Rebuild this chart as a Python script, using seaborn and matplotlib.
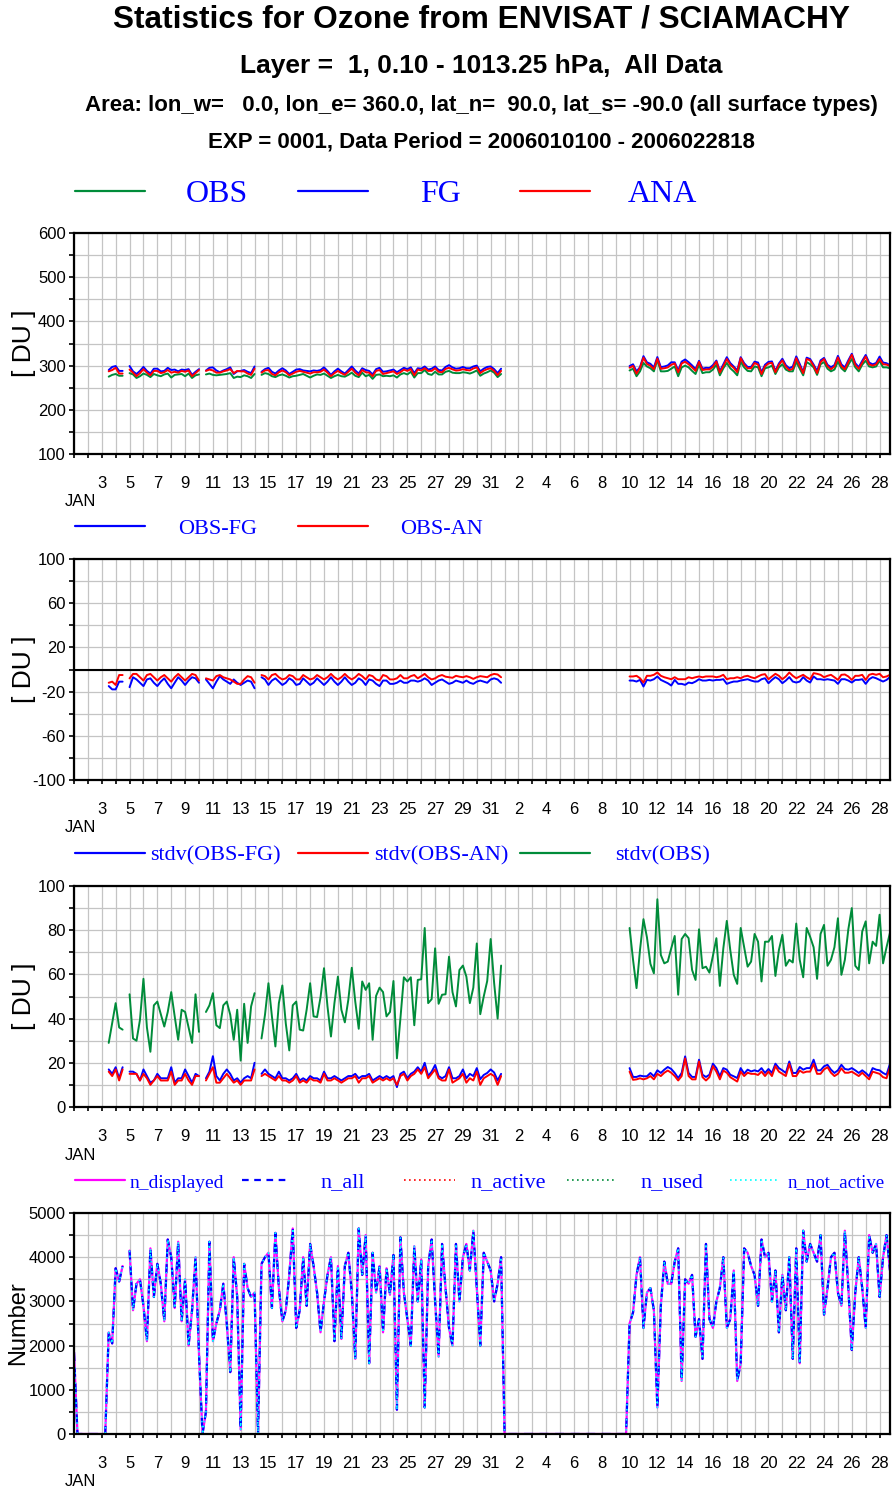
import numpy as np
import pandas as pd
import matplotlib
matplotlib.use("Agg")
import matplotlib.pyplot as plt
import seaborn as sns
from matplotlib.ticker import FixedLocator

sns.set_theme(style="white")
plt.rcParams["font.family"] = ["Liberation Sans", "DejaVu Sans"]
plt.rcParams["text.color"] = "black"
plt.rcParams["axes.labelcolor"] = "black"
plt.rcParams["axes.unicode_minus"] = False

# 6-hourly analysis slots, 2006010100 .. 2006022818
slots = pd.date_range("2006-01-01 00:00", "2006-02-28 18:00", freq="6h")
days = ((slots - slots[0]) / pd.Timedelta(days=1)).to_numpy()

# first slot of each uninterrupted run of ozone statistics
run_starts = [10, 16, 38, 54, 160]

# mean observed total ozone [DU]
obs_runs = [
    [275, 279, 281, 277, 277],
    [283, 280, 272, 276, 282, 279, 274, 281, 278, 276, 280, 282, 273, 279, 280, 281, 276, 282, 272, 278, 280],
    [280, 282, 279, 278, 279, 280, 281, 283, 272, 275, 274, 278, 276, 272, 281],
    [279, 283, 281, 276, 274, 278, 280, 277, 273, 276, 277, 279, 281, 277, 273, 277, 280, 279, 282, 277,
     272, 276, 279, 276, 275, 279, 284, 277, 274, 284, 276, 279, 270, 279, 280, 276, 277, 276, 278, 273,
     280, 283, 280, 286, 273, 283, 283, 290, 281, 279, 286, 280, 280, 286, 288, 284, 283, 283, 285, 284,
     282, 285, 289, 277, 282, 285, 289, 284, 274, 281],
    [289, 293, 276, 287, 306, 298, 294, 287, 313, 287, 287, 288, 293, 298, 276, 296, 300, 296, 288, 281,
     302, 283, 285, 285, 291, 302, 278, 294, 306, 294, 287, 278, 309, 296, 288, 287, 298, 296, 276, 294,
     296, 300, 281, 296, 303, 291, 287, 287, 309, 293, 278, 308, 303, 296, 279, 303, 308, 293, 287, 291,
     309, 294, 287, 302, 315, 296, 287, 302, 311, 298, 296, 298, 311, 296, 296, 294],
]

# mean departures OBS-FG and OBS-AN [DU]
omf_runs = [
    [-15, -18, -18, -11, -11],
    [-16, -7, -9, -12, -15, -9, -8, -12, -15, -11, -8, -13, -17, -12, -7, -10, -14, -10, -7, -8, -12],
    [-9, -13, -17, -11, -6, -9, -11, -13, -9, -12, -14, -12, -10, -11, -17],
    [-7, -9, -14, -10, -8, -11, -14, -12, -8, -10, -14, -13, -8, -11, -14, -12, -8, -11, -14, -11,
     -7, -11, -14, -11, -7, -11, -14, -12, -8, -10, -14, -9, -10, -13, -15, -10, -10, -13, -13, -12,
     -10, -12, -12, -10, -10, -11, -10, -8, -10, -14, -12, -10, -9, -11, -13, -12, -10, -11, -12, -10,
     -12, -13, -11, -10, -11, -12, -9, -8, -9, -12],
    [-10, -10, -10.9, -9.4, -15.4, -9.4, -10, -8.8, -6.3, -9.4, -10.9, -12.4, -14.5, -9.4, -13, -13,
     -13.9, -11.8, -12.4, -10.9, -8.8, -10, -10, -9.4, -10, -9.4, -9.4, -8.8, -13, -11.8, -10.9, -10.9,
     -10, -9.4, -8.8, -10, -10.9, -10.9, -8.8, -7.9, -12.4, -9.4, -6.9, -8.8, -12.4, -10, -6.9, -10.9,
     -11.8, -10.9, -6.9, -10, -11.8, -6.3, -8.8, -8.8, -9.4, -8.8, -9.4, -10, -13, -8.8, -8.8, -10,
     -11.8, -9.4, -9.4, -8.8, -13, -8.8, -6.9, -7.9, -9.4, -10.9, -9.4, -6.9],
]
oma_runs = [
    [-12, -11, -14, -5, -5],
    [-8, -4, -4, -7, -10, -5, -4, -7, -10, -7, -5, -8, -11, -7, -4, -7, -10, -7, -4, -5, -10],
    [-8, -9, -10, -6, -5, -7, -8, -9, -11, -13, -13, -9, -6, -7, -12],
    [-5, -6, -9, -5, -4, -7, -9, -8, -5, -6, -9, -9, -5, -7, -9, -8, -5, -7, -9, -7,
     -4, -7, -9, -7, -4, -7, -9, -7, -4, -6, -9, -5, -6, -9, -10, -5, -6, -9, -9, -8,
     -5, -8, -8, -6, -5, -8, -6, -4, -7, -9, -8, -6, -5, -6.5, -7, -7.5, -5.7, -6.5, -7, -6,
     -7, -8.5, -7, -6, -6.5, -7, -5, -4, -4.5, -7],
    [-6.3, -6.3, -5.7, -7.9, -11.8, -5.7, -5.7, -4.8, -2.7, -5.7, -7, -7.9, -8.8, -7, -8.8, -8.8,
     -8.8, -7, -7.9, -7, -6.3, -7, -6.3, -6.3, -6.3, -7, -6.3, -4.8, -8.8, -7.9, -7.9, -7,
     -7.9, -6.3, -5.7, -7, -7.9, -6.3, -4.8, -4.2, -8.8, -6.3, -3.9, -5.7, -8.8, -6.3, -2.7, -5.7,
     -7.9, -6.3, -4.8, -7, -8.8, -3.3, -3.9, -4.8, -7, -5.7, -4.8, -7, -9.4, -4.8, -4.5, -6.3,
     -9.4, -5.7, -5.7, -4.8, -9.4, -4.8, -3.9, -4.8, -3.9, -7, -6.3, -4.8],
]

# standard deviations [DU]
sd_omf_runs = [
    [17, 15, 18, 13, 18],
    [16, 16, 15, 12, 17, 14, 11, 12, 15, 13, 13, 13, 18, 11, 13, 13, 17, 14, 11, 15, 14],
    [13, 16, 23, 14, 12, 15, 17, 15, 12, 13, 11, 13, 14, 13, 20],
    [15, 17, 15, 14, 13, 16, 13, 13, 12, 13, 15, 12, 13, 12, 14, 13, 13, 12, 16, 13,
     13, 14, 13, 12, 13, 14, 14, 15, 13, 14, 14, 15, 12, 13, 14, 13, 14, 13, 14, 9,
     15, 16, 13, 15, 16, 18, 16, 20, 14, 16, 19, 14, 13, 14, 18, 13, 13, 14, 17, 13,
     15, 14, 17.6, 12.6, 14.5, 15.4, 17, 15.6, 12, 15],
    [17.6, 13.6, 13.6, 14.2, 13.9, 13.9, 15.4, 13.9, 16.6, 15.4, 16.9, 18.1, 17.2, 15.4, 13.1, 15.4,
     22.9, 15.4, 13.6, 13.6, 21.4, 14.6, 13.6, 14.6, 19.6, 17.6, 13.9, 17.6, 16.9, 14.6, 13.9, 13.1,
     17.6, 15.1, 16.9, 16.1, 16.6, 16.1, 17.6, 15.4, 17.2, 15.4, 19.6, 17.6, 16.6, 15.4, 20.6, 15.4,
     15.4, 18.1, 16.9, 17.6, 17.6, 21.4, 16.6, 16.6, 18.4, 19.1, 16.9, 15.4, 16.6, 19.1, 17.2, 16.9,
     17.6, 16.6, 15.4, 16.6, 15.4, 13.9, 17.6, 16.9, 16.6, 15.4, 14.6, 19.6],
]
sd_oma_runs = [
    [16, 14, 17, 12, 17],
    [15, 15, 15, 12, 15, 13, 10, 12, 14, 12, 12, 12, 16, 10, 12, 12, 15, 12, 10, 14, 14],
    [12, 15, 18, 11, 11, 13, 15, 13, 11, 12, 10, 12, 12, 12, 17],
    [14, 15, 14, 13, 12, 14, 12, 12, 11, 12, 14, 11, 12, 11, 13, 12, 12, 11, 15, 12,
     12, 13, 12, 11, 12, 13, 13, 14, 11, 13, 13, 14, 11, 12, 13, 12, 13, 12, 13, 10,
     14, 15, 12, 14, 15, 17, 15, 18, 13, 15, 17, 13, 12, 12, 17, 11, 12, 13, 15, 11,
     13, 12, 16, 10, 13, 14, 15, 14, 10, 14],
    [16, 12.3, 12.5, 13, 12.5, 13, 14, 12.5, 15, 14, 15.5, 16.5, 15.5, 14, 12, 14,
     22, 14, 12.5, 12.5, 20.6, 13.5, 12, 13.5, 18.5, 16, 12.5, 16.5, 15.5, 13.5, 12.5, 11.5,
     16, 14, 15.5, 15, 15, 14.5, 16, 14, 16, 14, 18.5, 16, 15, 14, 19.5, 14,
     14, 16.5, 15.5, 16, 16, 19.5, 15, 15, 17, 18, 15.5, 14, 15, 17.5, 15.5, 15.5,
     16, 15, 14, 15.5, 14, 12.5, 16, 15.5, 15, 13.5, 13, 18],
]
sd_obs_runs = [
    [29, 38, 47, 36, 35],
    [51, 31, 30, 39.5, 58, 36, 25, 46, 47.7, 42, 36.4, 43, 52, 41, 30.4, 44, 43, 36, 29, 51, 34],
    [43, 46, 51.5, 37, 35.7, 46, 47.7, 41.7, 30.4, 44, 21, 46.7, 29, 45.5, 51.5],
    [31, 41.7, 56, 41, 27.4, 47, 55, 37.7, 25.6, 46, 47.7, 35, 34.6, 44, 56, 41, 40.7, 49.7, 62.8, 45.5,
     31.9, 47, 59, 44, 38.3, 48.5, 63, 47.7, 35.4, 56.8, 53, 56, 30.4, 50.3, 54, 52, 41, 43, 57, 22,
     40, 58.7, 56.8, 58.7, 37, 57.5, 57.8, 81, 47, 48.8, 71.8, 46.7, 50.8, 51, 68, 52, 45.5, 62, 64, 59,
     47, 54, 74, 42, 50, 57, 76, 56, 40, 64],
    [81, 66.6, 53.8, 71, 85, 76.8, 64.8, 60.5, 94, 68.8, 65, 65.8, 71.8, 77.4, 50.8, 76,
     78.3, 76.4, 62, 57.5, 80.4, 62.8, 63.5, 60.8, 68.4, 76.4, 54.8, 71.8, 84.2, 71, 59.8, 55.7,
     81, 72.3, 63.5, 65.8, 78.3, 74.8, 56.8, 74.8, 74.8, 77.4, 59.3, 71, 77.9, 63.9, 66.6, 65.4,
     83, 66.6, 58.7, 81, 77, 72.3, 58, 78.3, 82.4, 63.9, 66.6, 72.3, 85.4, 59.8, 66.6, 80.4,
     90, 63.9, 62, 79.4, 84, 65, 74.8, 72.9, 87, 65, 72.3, 78.9],
]

# observation counts per slot (nan: no report)
nan = np.nan
n_all = [
    1850, 0, 0, 0, 0, 0, 0, 0, 0, 0,
    2300, 2050, 3750, 3450, 3800, nan, 4150, 2800, 3400, 3500,
    2900, 2100, 4200, 3100, 3850, 3400, 2550, 4400, 4000, 2850,
    4350, 2550, 3500, 2000, 2800, 4000, 1800, 0, 500, 4350,
    2100, 2500, 2800, 3400, 2500, 1400, 4000, 3100, 100, 3850,
    3300, 3100, 3200, 0, 3850, 4000, 4100, 2850, 4550, 3300,
    2550, 2800, 3600, 4650, 2400, 2800, 4000, 2900, 4300, 3800,
    3200, 2300, 3000, 3600, 4000, 2100, 3800, 2150, 3800, 4100,
    3200, 1700, 4650, 3600, 4500, 1600, 4100, 3200, 3800, 2300,
    3750, 3150, 4050, 550, 4450, 3200, 2600, 2000, 4250, 3000,
    3950, 600, 3800, 4400, 3000, 1750, 4300, 3300, 2400, 2000,
    4300, 3000, 4000, 4300, 3700, 4600, 3300, 2000, 4100, 3900,
    3700, 3000, 3400, 4000, 0, 0, 0, 0, 0, 0,
    0, 0, 0, 0, 0, 0, 0, 0, 0, 0,
    0, 0, 0, 0, 0, 0, 0, 0, 0, 0,
    0, 0, 0, 0, 0, 0, 0, 0, 0, 0,
    2500, 2750, 3600, 4000, 2400, 3200, 3300, 2800, 600, 2900,
    3900, 3400, 3400, 3900, 4200, 1200, 3500, 3400, 3600, 2200,
    2600, 1700, 4300, 2600, 2400, 3000, 3300, 4000, 2400, 2600,
    3700, 1200, 1600, 4200, 4100, 3800, 3600, 2900, 4400, 4000,
    4100, 3000, 3700, 2300, 3600, 2800, 4000, 1700, 4200, 1600,
    4600, 3900, 4300, 4100, 3900, 4500, 2700, 3300, 4000, 4100,
    3200, 2900, 4600, 3300, 1900, 3200, 4000, 3300, 2400, 4500,
    4100, 4300, 3100, 4000, 4500, 3700,
]
# all data passive: everything displayed, nothing active or used
n_displayed = n_all
n_not_active = n_all
n_active = [0] * len(slots)
n_used = [0] * len(slots)

W, H = 893, 1488
GREEN, BLUE, RED = "#008c3a", "#0000ff", "#ff0000"
LW = 1.4


def runs_frame(runs):
    recs = []
    for r, (s, vals) in enumerate(zip(run_starts, runs)):
        for j, v in enumerate(vals):
            recs.append({"day": days[s + j], "value": v, "run": r})
    return pd.DataFrame(recs)


def series_frame(values):
    v = pd.Series(values, dtype=float)
    df = pd.DataFrame({"day": days, "value": v, "run": v.isna().cumsum()})
    return df.dropna()


def draw(ax, df, color, lw=LW, **kw):
    sns.lineplot(data=df, x="day", y="value", units="run", estimator=None,
                 sort=False, color=color, lw=lw, legend=False, ax=ax, **kw)


fg_runs = [[o - d for o, d in zip(a, b)] for a, b in zip(obs_runs, omf_runs)]
an_runs = [[o - d for o, d in zip(a, b)] for a, b in zip(obs_runs, oma_runs)]

fig = plt.figure(figsize=(W / 100, H / 100), dpi=100)


def panel(top, bottom):
    return fig.add_axes([74 / W, 1 - bottom / H, (890 - 74) / W, (bottom - top) / H])


day_ticks = list(range(0, 59))
day_labels = []
for d in day_ticks:
    date = slots[0] + pd.Timedelta(days=d)
    day_labels.append(str(date.day) if d >= 2 and d % 2 == 0 else "")


def style(ax, lo, hi, major, minor):
    ax.set_xlim(days[0], days[-1])
    ax.set_ylim(lo, hi)
    ax.set_xticks(day_ticks)
    ax.set_xticklabels(day_labels)
    ax.yaxis.set_major_locator(FixedLocator(major))
    ax.yaxis.set_minor_locator(FixedLocator(minor))
    ax.set_axisbelow(True)
    ax.grid(True, which="both", color="#c4c4c4", lw=0.9)
    ax.tick_params(axis="x", which="major", bottom=True, direction="out", length=3,
                   width=1.2, pad=13, labelsize=12, colors="black")
    ax.tick_params(axis="y", which="both", left=True, direction="out", length=3.5,
                   width=1.2, pad=2.5, labelsize=12, colors="black")
    for s in ax.spines.values():
        s.set_visible(True)
        s.set_color("black")
        s.set_linewidth(1.6)
    ax.set_xlabel("")
    ax.set_ylabel("")
    ax.annotate("JAN", xy=(0.5, 0), xycoords=("data", "axes fraction"),
                xytext=(0, -48 * 0.72), textcoords="offset points",
                ha="center", va="center", fontsize=12)


# panel 1: mean ozone
ax1 = panel(233, 454)
draw(ax1, runs_frame(obs_runs), GREEN)
draw(ax1, runs_frame(fg_runs), BLUE)
draw(ax1, runs_frame(an_runs), RED)
style(ax1, 100, 600, [100, 200, 300, 400, 500, 600], [150, 250, 350, 450, 550])

# panel 2: mean departures
ax2 = panel(559, 780)
ax2.axhline(0, color="black", lw=1.5, zorder=1.5)
draw(ax2, runs_frame(omf_runs), BLUE)
draw(ax2, runs_frame(oma_runs), RED)
style(ax2, -100, 100, [-100, -60, -20, 20, 60, 100], [-80, -40, 0, 40, 80])

# panel 3: standard deviations
ax3 = panel(886, 1107)
draw(ax3, runs_frame(sd_omf_runs), BLUE)
draw(ax3, runs_frame(sd_oma_runs), RED)
draw(ax3, runs_frame(sd_obs_runs), GREEN)
style(ax3, 0, 100, [0, 20, 40, 60, 80, 100], [10, 30, 50, 70, 90])

# panel 4: counts
ax4 = panel(1213, 1434)
draw(ax4, series_frame(n_displayed), "#ff00ff", lw=1.6)
draw(ax4, series_frame(n_all), BLUE, lw=1.6, linestyle=(0, (4, 3)))
draw(ax4, series_frame(n_active), RED, lw=1.2, linestyle=(0, (1, 2)))
draw(ax4, series_frame(n_used), GREEN, lw=1.2, linestyle=(0, (1, 2)))
draw(ax4, series_frame(n_not_active), "#00ffff", lw=1.2, linestyle=(0, (1, 2)))
style(ax4, 0, 5000, [0, 1000, 2000, 3000, 4000, 5000], [500, 1500, 2500, 3500, 4500])

# y-axis titles
for top, bottom in [(233, 454), (559, 780), (886, 1107)]:
    fig.text(24 / W, 1 - (top + bottom) / 2 / H, "[ DU ]", rotation=90,
             ha="center", va="center", fontsize=19)
fig.text(18 / W, 1 - 1323.5 / H, "Number", rotation=90, ha="center", va="center", fontsize=17)

# headings
fig.text(481 / W, 1 - 19 / H, "Statistics for Ozone from ENVISAT / SCIAMACHY",
         ha="center", va="center", fontsize=22.8, fontweight="bold")
fig.text(481 / W, 1 - 66 / H, "Layer =  1, 0.10 - 1013.25 hPa,  All Data",
         ha="center", va="center", fontsize=19, fontweight="bold")
fig.text(481 / W, 1 - 105 / H,
         "Area: lon_w=   0.0, lon_e= 360.0, lat_n=  90.0, lat_s= -90.0 (all surface types)",
         ha="center", va="center", fontsize=16, fontweight="bold")
fig.text(481 / W, 1 - 142 / H, "EXP = 0001, Data Period = 2006010100 - 2006022818",
         ha="center", va="center", fontsize=16, fontweight="bold")

# legend rows
lg = fig.add_axes([0, 0, 1, 1])
lg.set_xlim(0, W)
lg.set_ylim(H, 0)
lg.axis("off")
SERIF = ["Liberation Serif", "DejaVu Serif"]


def key(x0, x1, y, color, ls="-", lw=1.6):
    lg.plot([x0, x1], [y, y], color=color, ls=ls, lw=lw)


def label(x, y, s, size):
    lg.text(x, y, s, ha="left", va="center", fontsize=size, color=BLUE, family=SERIF)


key(75, 145, 191, GREEN); label(186, 195, "OBS", 23)
key(298, 368, 191, BLUE); label(420, 195, "FG", 23)
key(520, 590, 191, RED); label(628, 195, "ANA", 23)

key(75, 145, 526, BLUE); label(178, 529, "OBS-FG", 16)
key(298, 368, 526, RED); label(400, 529, "OBS-AN", 16)

key(75, 145, 853, BLUE); label(150, 856, "stdv(OBS-FG)", 16)
key(298, 368, 853, RED); label(374, 856, "stdv(OBS-AN)", 16)
key(520, 590, 853, GREEN); label(615, 856, "stdv(OBS)", 16)

key(75, 125, 1180, "#ff00ff"); label(130, 1183, "n_displayed", 14)
key(242, 290, 1180, BLUE, ls=(0, (3, 2.5))); label(320, 1183, "n_all", 16)
key(404, 455, 1180, RED, ls=(0, (1, 2)), lw=1.2); label(470, 1183, "n_active", 16)
key(567, 615, 1180, GREEN, ls=(0, (1, 2)), lw=1.2); label(640, 1183, "n_used", 16)
key(730, 780, 1180, "#00ffff", ls=(0, (1, 2)), lw=1.2); label(788, 1183, "n_not_active", 13.5)

fig.savefig("out.png", dpi=100)
